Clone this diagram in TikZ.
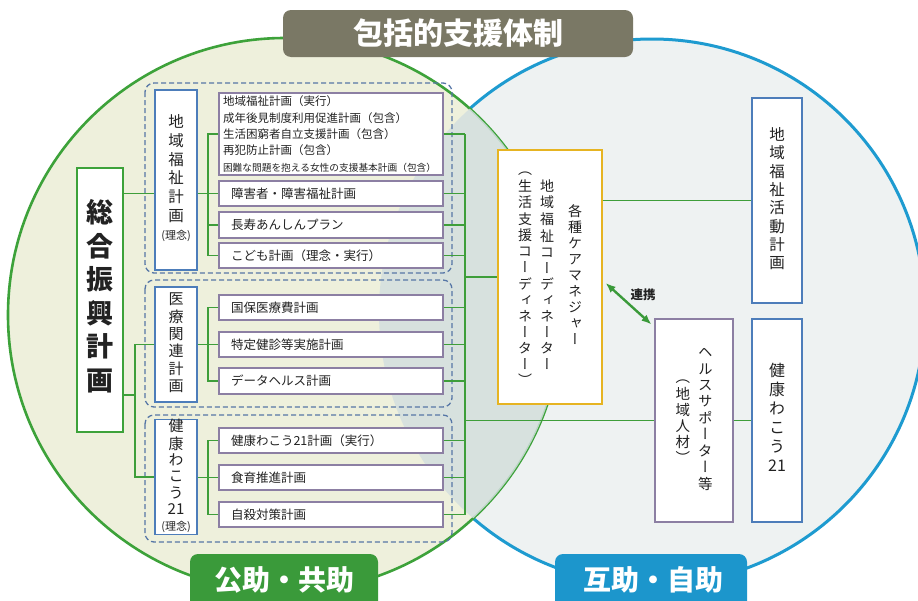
\documentclass[tikz,border=0pt]{standalone}
\usepackage{fontspec}
\setmainfont{Noto Sans CJK JP}
\newfontfamily\jpv[RawFeature=+vert]{Noto Sans CJK JP}
\usetikzlibrary{calc,arrows.meta}

\definecolor{gcircle}{HTML}{3DA23A}
\definecolor{bcircle}{HTML}{1E9BD0}
\definecolor{gfill}{HTML}{EEF0DC}
\definecolor{bfill}{HTML}{EEF2F2}
\definecolor{lensc}{HTML}{D3DFDF}
\definecolor{bannerc}{HTML}{7A7865}
\definecolor{lgreen}{HTML}{3A9A3A}
\definecolor{lblue}{HTML}{1C96CC}
\definecolor{connc}{HTML}{3E9E3A}
\definecolor{bluebd}{HTML}{4D7DBA}
\definecolor{purbd}{HTML}{8C7FA3}
\definecolor{dashc}{HTML}{5676A6}
\definecolor{yelbd}{HTML}{E6B422}
\definecolor{txtc}{HTML}{222222}

\newcommand\fsz[2]{\fontsize{#1}{#2}\selectfont}
\newcommand\vst[4][]{{#1\jpv\fsz{#2}{#3}\begin{tabular}[c]{@{}c@{}}#4\end{tabular}}}

\tikzset{
  basebox/.style={draw, fill=white, line width=1.1pt, inner sep=0pt, text=txtc},
  subbox/.style={basebox, draw=purbd, text width=200pt, align=left, inner xsep=12pt,
     minimum height=25pt, font=\fsz{12.5}{15}},
  labbox/.style={basebox, draw=bluebd, minimum width=42pt},
  conn/.style={draw=connc, line width=1.5pt},
  grp/.style={draw=dashc, line width=1.3pt, dash pattern=on 5pt off 3pt, rounded corners=9pt},
  tag/.style={text=white, font=\bfseries\fsz{28}{30}, rounded corners=8pt, inner sep=0pt},
}

\begin{document}
\begin{tikzpicture}[x=1pt,y=-1pt]
\useasboundingbox (0,0) rectangle (918,600);
\begin{scope}
\clip (0,0) rectangle (918,600);
\fill[white] (0,0) rectangle (918,600);
% circles
\fill[bfill] (652,312) circle [radius=273pt];
\draw[bcircle, line width=3pt] (652,312) circle [radius=273pt];
\fill[gfill] (285,315) circle [radius=277pt];
\draw[gcircle, line width=2.6pt] (285,315) circle [radius=277pt];
\begin{scope}
\clip (285,315) circle [radius=277pt];
\fill[lensc, opacity=0.85] (652,312) circle [radius=273pt];
\end{scope}

% group frames
\draw[grp] (145,83) rectangle (452,273);
\draw[grp] (145,280) rectangle (452,407);
\draw[grp] (145,415) rectangle (452,542);

% main box
\node[basebox, draw=gcircle, line width=1.5pt, minimum width=46pt, minimum height=264pt] (mb) at (100,300)
  {\vst[\bfseries]{27}{33.5}{総\\合\\振\\興\\計\\画}};

% group labels
\node[labbox, minimum height=180pt] (g1l) at (176,180)
  {\vst{15.5}{18.7}{地\\域\\福\\祉\\計\\画\\{\rmfamily\fsz{11}{12}(理念)}}};
\node[labbox, minimum height=115pt] (g2l) at (176,344.5)
  {\vst{15}{17}{医\\療\\関\\連\\計\\画}};
\node[labbox, minimum height=110pt] (g3l) at (176,477)
  {\vst{15}{16}{健\\康\\わ\\こ\\う\\21\\{\rmfamily\fsz{11}{11}(理念)}}};

% sub boxes
\node[subbox, text width=216pt, inner xsep=4pt, minimum height=82pt, font=\fsz{11.5}{16.3}] (s11) at (331,134)
  {地域福祉計画（実行）\\成年後見制度利用促進計画（包含）\\生活困窮者自立支援計画（包含）\\再犯防止計画（包含）\\{\fsz{9.7}{16.3}困難な問題を抱える女性の支援基本計画（包含）}};
\node[subbox] (s12) at (331,193.5) {障害者・障害福祉計画};
\node[subbox, minimum height=26pt] (s13) at (331,225) {長寿あんしんプラン};
\node[subbox] (s14) at (331,255.5) {こども計画（理念・実行）};
\node[subbox] (s21) at (331,307.5) {国保医療費計画};
\node[subbox] (s22) at (331,344.5) {特定健診等実施計画};
\node[subbox, minimum height=26pt] (s23) at (331,381) {データヘルス計画};
\node[subbox] (s31) at (331,440.5) {健康わこう21計画（実行）};
\node[subbox] (s32) at (331,477.5) {食育推進計画};
\node[subbox] (s33) at (331,514.5) {自殺対策計画};

% central and right boxes
\node[basebox, draw=yelbd, line width=1.3pt, minimum width=104pt, minimum height=254pt] (cm) at (550,277)
  {\vst{14}{16}{（\\生\\活\\支\\援\\コ\\ー\\デ\\ィ\\ネ\\ー\\タ\\ー\\）}\hspace{8pt}%
   \vst{14}{16}{地\\域\\福\\祉\\コ\\ー\\デ\\ィ\\ネ\\ー\\タ\\ー}\hspace{14pt}%
   \vst{14}{16}{各\\種\\ケ\\ア\\マ\\ネ\\ジ\\ャ\\ー}\hspace{4pt}};
\node[basebox, draw=bluebd, minimum width=50pt, minimum height=205pt] (ra) at (777,200.5)
  {\vst{15.5}{18}{地\\域\\福\\祉\\活\\動\\計\\画}};
\node[basebox, draw=bluebd, minimum width=50pt, minimum height=203pt] (rk) at (777,420.5)
  {\vst{16}{19}{健\\康\\わ\\こ\\う\\21}};
\node[basebox, draw=purbd, minimum width=78pt, minimum height=203pt] (hs) at (694,420.5)
  {\vst{14.5}{14}{（\\地\\域\\人\\材\\）}\hspace{8pt}%
   \vst{14.5}{16.2}{ヘ\\ル\\ス\\サ\\ポ\\ー\\タ\\ー\\等}\hspace{3pt}};

% helper coordinates
\coordinate (lb) at (135,0);
\coordinate (kx) at (208,0);
\coordinate (rb) at (465,0);
\coordinate (mbj) at (0,395);

% left connections
\draw[conn] (mb.east |- s12.west) -- (g1l.west |- s12.west);
\draw[conn] (g2l.west) -- (lb |- g2l.west) -- (lb |- g3l.west) -- (g3l.west);
\draw[conn] (mb.east |- mbj) -- (lb |- mbj);

% brackets
\draw[conn] (g1l.east |- s12.west) -- (s12.west);
\draw[conn] (s11.west) -- (kx |- s11.west) -- (kx |- s14.west) -- (s14.west);
\draw[conn] (s13.west) -- (kx |- s13.west);
\draw[conn] (g2l.east |- s22.west) -- (s22.west);
\draw[conn] (s21.west) -- (kx |- s21.west) -- (kx |- s23.west) -- (s23.west);
\draw[conn] (g3l.east |- s32.west) -- (s32.west);
\draw[conn] (s31.west) -- (kx |- s31.west) -- (kx |- s33.west) -- (s33.west);

% right bus
\foreach \s in {s11,s12,s13,s14,s21,s22,s23,s31,s32,s33}
  \draw[conn] (\s.east) -- (rb |- \s.east);
\draw[conn] (rb |- s11.east) -- (rb |- s33.east);
\draw[conn] (rb |- cm.west) -- (cm.west);
\draw[conn] (rb |- hs.west) -- (hs.west);
\draw[conn] (cm.east |- ra.west) -- (ra.west);
\draw[conn] (hs.east) -- (rk.west);

% cooperation arrow
\draw[draw=lgreen, line width=2.4pt, {Latex[length=10pt,width=8pt]}-{Latex[length=10pt,width=8pt]}]
  ($(cm.east)+(3,6)$) -- ($(hs.north west)+(-3,6)$);
\node[text=txtc, font=\bfseries\fsz{12.5}{14}] (lk) at (643,295) {連携};

% banner and tags
\node[tag, fill=bannerc, minimum width=350pt, minimum height=47pt, font=\bfseries\fsz{30}{32}] (bn) at (458,33.5) {包括的支援体制};
\node[tag, fill=lgreen, minimum width=188pt, minimum height=56pt] (tg) at (284,582) {};
\node[tag, fill=lblue, minimum width=192pt, minimum height=56pt] (tb) at (651,582) {};
\node[text=white, font=\bfseries\fsz{28}{30}] (tgt) at (284,580) {公助・共助};
\node[text=white, font=\bfseries\fsz{28}{30}] (tbt) at (653,580) {互助・自助};
\end{scope}
\end{tikzpicture}
\end{document}
